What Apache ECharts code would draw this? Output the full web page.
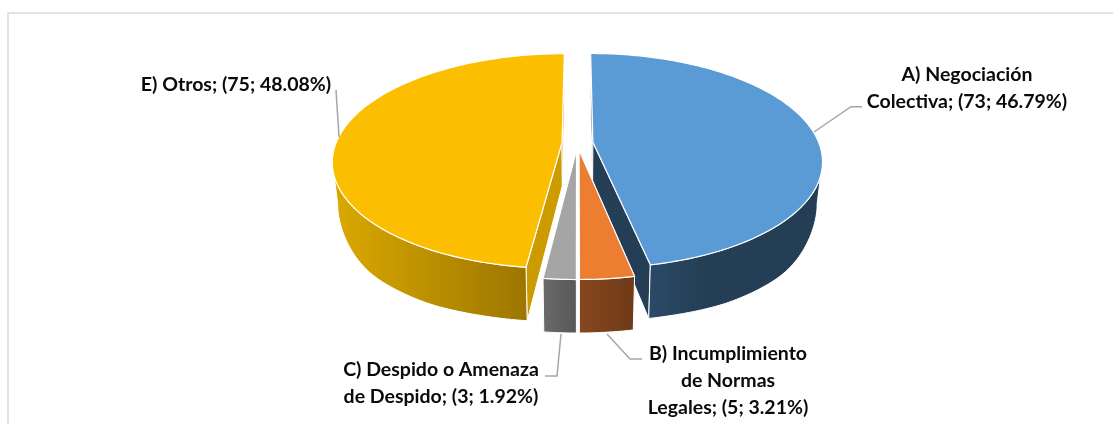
<!DOCTYPE html>
<html><head><meta charset="utf-8">
<style>html,body{margin:0;padding:0;background:#fff}#c{width:1113px;height:424px}</style>
<script src="https://cdn.jsdelivr.net/npm/echarts@6/dist/echarts.min.js"></script>
</head><body><div id="c"></div>
<script>
// ---- data ----
const categories = ['A) Negociación\nColectiva', 'B) Incumplimiento\nde Normas\nLegales', 'C) Despido o Amenaza\nde Despido', 'E) Otros'];
const values = [73, 5, 3, 75];
// ---- styles ----
const topColors = ['#5B9BD5', '#ED7D31', '#A5A5A5', '#FBBE00'];
const faceColors = ['#233E55', '#7A3E1A', '#5E5E5E', '#CB9B00'];
const wallStops = [
  [[0, '#2B4A68'], [0.3, '#243F55'], [1, '#243F55']],
  [[0, '#86471F'], [1, '#6F3A17']],
  [[0, '#6A6A6A'], [1, '#585858']],
  [[0, '#DBA900'], [1, '#9C7600']]
];
const drawOrder = [1, 4, 2, 3]; // z layer per slice: A, B, C, E
// ---- layout ----
const G = {cx: 577.5, cy: 143, R: 226, H: 104.3, k: 0.172, D: 43, f: 0.978, e: 0.0686};
const labelPos = [[967, 88.5], [728, 381], [441, 383.5], [236, 85]];
const leaders = [
  [[862, 106.7], [851, 106.7], [814, 132]],
  [[642, 359], [630, 359], [607, 334]],
  [[545, 376], [557, 376], [561, 334]],
  [[336, 90], [339, 137]]
];
const total = values.reduce((a, b) => a + b, 0);
const TAU = Math.PI * 2;
const smooth = (a, b, t) => { const u = Math.min(1, Math.max(0, (t - a) / (b - a))); return u * u * (3 - 2 * u); };

function proj(theta, rho, mid, lower) {
  const Yr = -rho * Math.cos(theta);
  const X = rho * Math.sin(theta) + G.e * Math.sin(mid);
  const Y = Yr - G.e * Math.cos(mid);
  const s = 1 / (1 - G.k * Y);
  if (!lower) return [G.cx + G.R * X * s, G.cy + G.H * Y * s];
  const depth = G.D + 12.5 * smooth(0.2, 0.7, Yr) - 2 * smooth(0.85, 1, Yr);
  return [G.cx + G.f * G.R * X * s, G.cy + G.H * Y * s + depth];
}
function arc(a0, a1, mid, lower) {
  const n = Math.max(2, Math.ceil((a1 - a0) / 0.02)), pts = [];
  for (let i = 0; i <= n; i++) pts.push(proj(a0 + (a1 - a0) * i / n, 1, mid, lower));
  return pts;
}
function renderItem(params, api) {
  const i = params.dataIndex, v = api.value(0);
  let before = 0;
  for (let j = 0; j < i; j++) before += values[j];
  const a0 = before / total * TAU, a1 = (before + v) / total * TAU, mid = (a0 + a1) / 2;
  const z = drawOrder[i] * 10;
  const edge = {stroke: '#fff', lineWidth: 1, lineJoin: 'round'};
  const topArc = arc(a0, a1, mid, false), botArc = arc(a0, a1, mid, true);
  // outer wall: only the part of the rim that faces the viewer (silhouette to silhouette)
  const sil = Math.acos(-G.k);
  const w0 = Math.max(a0, sil), w1 = Math.min(a1, TAU - sil);
  const wallTop = arc(w0, w1, mid, false), wallBot = arc(w0, w1, mid, true);
  const xs = wallBot.concat(wallTop).map(p => p[0]);
  const wallFill = {type: 'linear', x: Math.min(...xs), y: 0, x2: Math.max(...xs), y2: 0, global: true,
    colorStops: wallStops[i].map(s => ({offset: s[0], color: s[1]}))};
  const apexT = proj(0, 0, mid, false), apexB = proj(0, 0, mid, true);
  const poly = (points, style, zz) => ({type: 'polygon', shape: {points}, style, z2: zz, silent: true});
  const faceA = [apexT, topArc[0], botArc[0], apexB];
  const faceB = [apexT, topArc[topArc.length - 1], botArc[botArc.length - 1], apexB];
  const wall = wallTop.concat(wallBot.slice().reverse());
  const children = [
    poly(faceA, {fill: faceColors[i], ...edge}, z),
    poly(faceB, {fill: faceColors[i], ...edge}, z),
    poly(wall, {fill: wallFill, ...edge}, z + 1),
    poly([apexT].concat(topArc), {fill: topColors[i], stroke: '#fff', lineWidth: 1.2, lineJoin: 'round'}, z + 2),
    {type: 'polyline', shape: {points: leaders[i]}, style: {fill: null, stroke: '#A6A6A6', lineWidth: 1.5}, z2: 100, silent: true},
    {type: 'text', x: labelPos[i][0], y: labelPos[i][1], z2: 101, silent: true,
      style: {
        text: categories[i] + '; (' + v + '; ' + (v / total * 100).toFixed(2) + '%)',
        font: '700 19.5px Lato', fill: '#0A0A0A', align: 'center', verticalAlign: 'middle', lineHeight: 27
      }}
  ];
  return {type: 'group', children};
}
const chart = echarts.init(document.getElementById('c'), null, {renderer: 'canvas', width: 1113, height: 424});
chart.setOption({
  animation: false,
  backgroundColor: '#fff',
  graphic: [{type: 'rect', shape: {x: 8, y: 13, width: 1200, height: 500}, style: {fill: null, stroke: '#D9D9D9', lineWidth: 1.5}, silent: true}],
  series: [{type: 'custom', coordinateSystem: 'none', renderItem, data: values.map(v => [v]), encode: {value: 0}}]
});
</script></body></html>
